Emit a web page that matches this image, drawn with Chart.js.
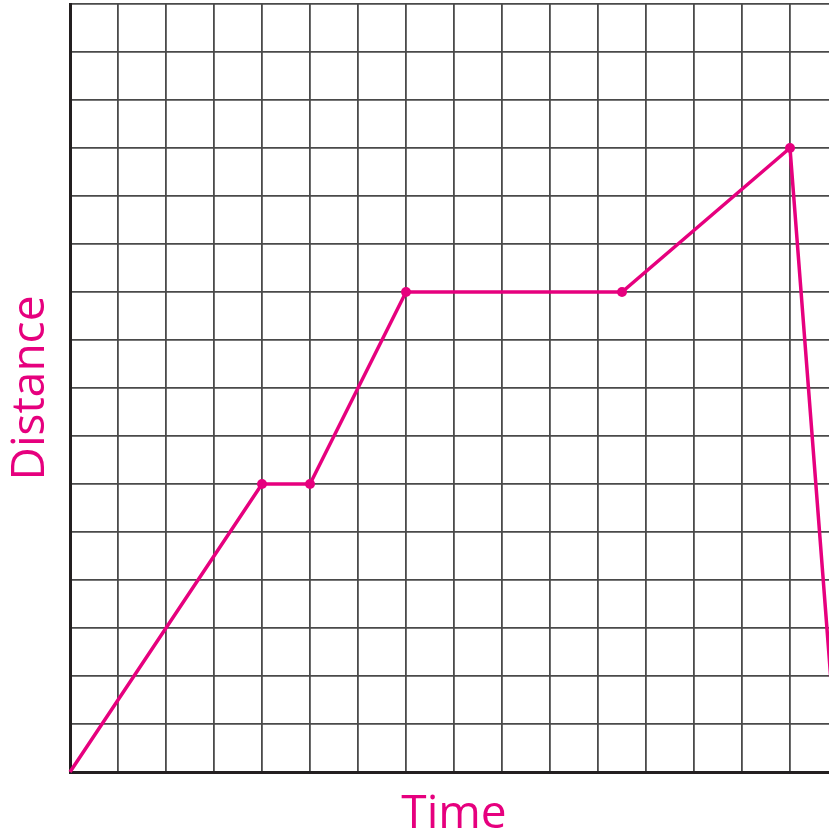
<!DOCTYPE html>
<html>
<head>
<meta charset="utf-8">
<script src="https://cdn.jsdelivr.net/npm/chart.js@4/dist/chart.umd.min.js"></script>
<style>
  html, body { margin: 0; padding: 0; overflow: hidden; background: #fff; width: 829px; height: 834px; }
  #wrap { position: relative; width: 860px; height: 834px; }
</style>
</head>
<body>
<div id="wrap"><canvas id="c" width="860" height="834"></canvas></div>
<script>
// Data
const timeValues = [0, 4, 5, 7, 11.5, 15, 16];
const distanceValues = [0, 6, 6, 10, 10, 13, 0];
const markerShown = [false, true, true, true, true, true, false];
const xTitle = 'Time';
const yTitle = 'Distance';

const pink = '#E6007E';
const points = timeValues.map((t, i) => ({ x: t, y: distanceValues[i] }));

new Chart(document.getElementById('c'), {
  type: 'scatter',
  data: {
    datasets: [{
      data: points,
      showLine: true,
      borderColor: pink,
      backgroundColor: pink,
      borderWidth: 3.5,
      pointRadius: markerShown.map(m => m ? 5 : 0),
      pointHoverRadius: markerShown.map(m => m ? 5 : 0),
      pointBorderWidth: 0,
      tension: 0,
      clip: false
    }]
  },
  options: {
    responsive: false,
    animation: false,
    events: [],
    layout: { padding: { top: 4, right: 22, left: 0, bottom: 0 } },
    plugins: { legend: { display: false }, tooltip: { enabled: false } },
    scales: {
      x: {
        type: 'linear',
        min: 0, max: 16,
        ticks: { display: false, stepSize: 1 },
        grid: { color: '#4a4a4a', lineWidth: 1.8, drawTicks: false },
        border: { color: '#231f20', width: 3 },
        title: {
          display: true, text: xTitle, color: pink,
          font: { family: 'Open Sans', size: 46, lineHeight: 0.85 },
          padding: { top: 22.9, bottom: 0 }
        }
      },
      y: {
        type: 'linear',
        min: 0, max: 16,
        ticks: { display: false, stepSize: 1 },
        grid: { color: '#4a4a4a', lineWidth: 1.8, drawTicks: false },
        border: { color: '#231f20', width: 3 },
        title: {
          display: true, text: yTitle, color: pink,
          font: { family: 'Open Sans', size: 46, lineHeight: 1.0 },
          padding: { top: 8, bottom: 16 }
        }
      }
    }
  }
});
</script>
</body>
</html>
